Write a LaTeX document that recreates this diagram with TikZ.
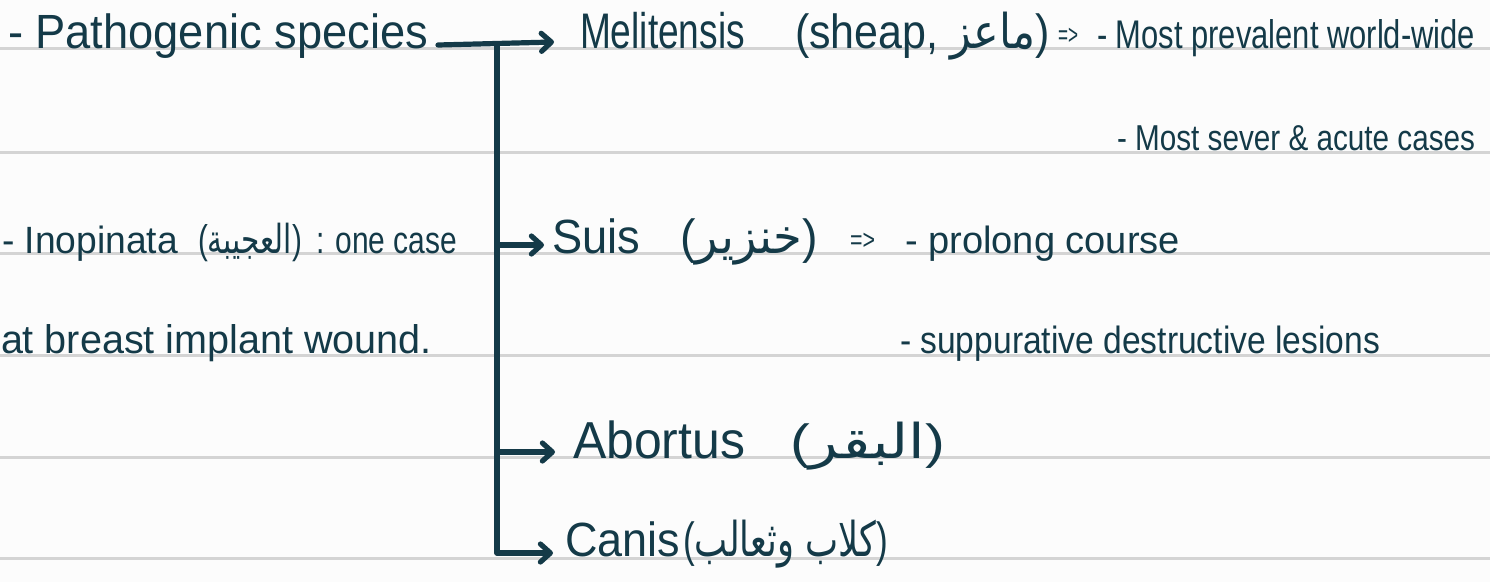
\documentclass[tikz,border=0pt]{standalone}
\usepackage{fontspec}
\usepackage{graphicx}
\setmainfont{Liberation Sans}
\newfontfamily\arabicfont[Script=Arabic]{DejaVu Sans}
\TeXXeTstate=1
\usetikzlibrary{arrows.meta,calc}
\definecolor{ink}{RGB}{20,58,72}
\definecolor{ruleclr}{RGB}{212,212,212}
\definecolor{paper}{RGB}{252,252,252}
\newcommand\fitw[2]{\resizebox{#1}{\height}{#2}}
\newcommand\artxt[1]{{\arabicfont\beginR #1\endR}}
\begin{document}
\begin{tikzpicture}[x=1pt,y=-1pt,
  txt/.style={anchor=base west,inner sep=0pt,outer sep=0pt,text=ink},
  bigtxt/.style={txt,font=\fontsize{48}{50}\selectfont},
  midtxt/.style={txt,font=\fontsize{40}{42}\selectfont},
  smalltxt/.style={txt,font=\fontsize{36}{38}\selectfont},
  link/.style={draw=ink,line width=5.2pt,line cap=round,line join=round},
  tiplink/.style={link,-{Straight Barb[length=10pt,width=18pt,line cap=round,line join=round]}},
  ruleline/.style={draw=ruleclr,line width=3pt}
]
\useasboundingbox (0,0) rectangle (1490,582);
\clip (0,0) rectangle (1490,582);
\fill[paper] (0,0) rectangle (1490,582);

% ruled lines
\foreach \yy in {48,152,253,355,457,558}
  \draw[ruleline] (0,\yy) -- (1490,\yy);

% row 1
\node[bigtxt] (path) at (8,48) {\fitw{420pt}{- Pathogenic species}};
\node[bigtxt,font=\fontsize{50}{52}\selectfont] (meli) at (580,48) {\fitw{165pt}{Melitensis}};
\node[bigtxt] (sheep) at (795,48) {\fitw{255pt}{(sheap, \artxt{ماعز})}};
\node[smalltxt,font=\fontsize{28}{30}\selectfont] (imp1) at (1058,44) {\fitw{20pt}{=>}};
\node[midtxt] (prev) at (1097,48) {\fitw{378pt}{- Most prevalent world-wide}};
% row 2
\node[smalltxt] (sever) at (1117,150) {\fitw{358pt}{- Most sever \& acute cases}};
% row 3
\node[midtxt,font=\fontsize{38}{40}\selectfont] (inop) at (2,253) {\fitw{176pt}{- Inopinata}};
\node[midtxt] (inopar) at (198,253) {\fitw{104pt}{(\artxt{العجيبة})}};
\node[midtxt,font=\fontsize{38}{40}\selectfont] (onecase) at (316,253) {\fitw{141pt}{: one case}};
\node[bigtxt] (suis) at (552,253) {\fitw{88pt}{Suis}};
\node[bigtxt] (suisar) at (680,253) {\fitw{138pt}{(\artxt{خنزير})}};
\node[smalltxt,font=\fontsize{28}{30}\selectfont] (imp2) at (850,249) {\fitw{25pt}{=>}};
\node[midtxt,font=\fontsize{38}{40}\selectfont] (prol) at (905,253) {\fitw{275pt}{- prolong course}};
% row 4
\node[midtxt] (breast) at (1,353) {\fitw{431pt}{at breast implant wound.}};
\node[midtxt,font=\fontsize{38}{40}\selectfont] (supp) at (900,353) {\fitw{480pt}{- suppurative destructive lesions}};
% row 5
\node[bigtxt,font=\fontsize{52}{54}\selectfont] (abort) at (573,458) {\fitw{172pt}{Abortus}};
\node[bigtxt] (abortar) at (790,458) {\fitw{155pt}{(\artxt{البقر})}};
% row 6
\node[bigtxt] (canis) at (565,556) {\fitw{115pt}{Canis}};
\node[bigtxt] (canisar) at (683,556) {\fitw{205pt}{(\artxt{كلاب وثعالب})}};

% connectors
\coordinate (jn) at (497,45);
\draw[tiplink] ($(path.base east)+(10,-3)$) -- ($(meli.base west)+(-26,-6)$);
\draw[tiplink] (jn) |- ($(suis.base west)+(-8,-8)$);
\draw[tiplink] (jn) |- ($(abort.base west)+(-18,-6)$);
\draw[tiplink] (jn) |- ($(canis.base west)+(-12,-3)$);
\end{tikzpicture}
\end{document}
